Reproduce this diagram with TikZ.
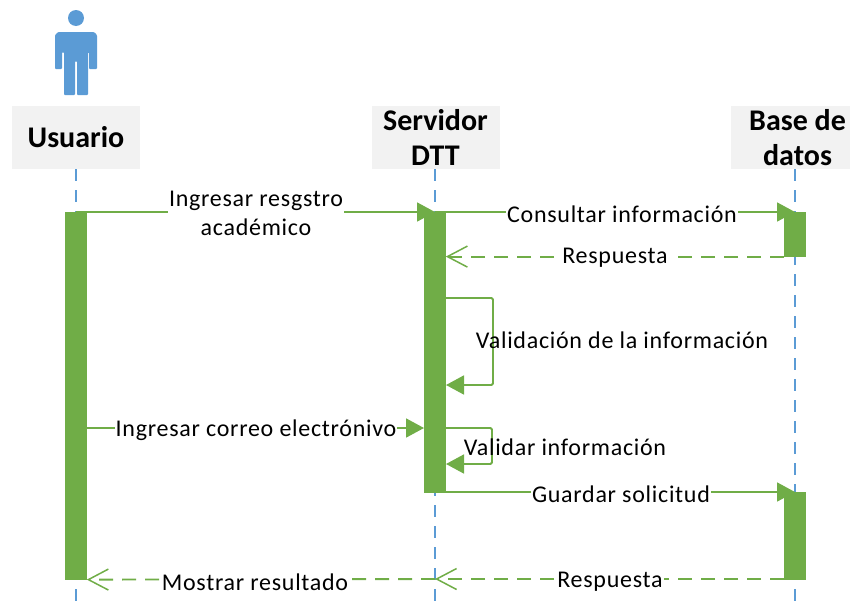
\documentclass[tikz,border=0pt]{standalone}
\usepackage{fontspec}
\setmainfont{Carlito}
\newfontfamily\labfont[LetterSpace=3]{Carlito}
\usetikzlibrary{arrows.meta,backgrounds}
\definecolor{grn}{HTML}{70AD47}
\definecolor{blu}{HTML}{5B9BD5}
\definecolor{hdr}{HTML}{F2F2F2}
\tikzset{
  x=1pt,y=-1pt,
  head/.style={fill=hdr,minimum width=128pt,minimum height=63pt,inner sep=0pt,align=center,font=\fontsize{30}{35}\selectfont\bfseries},
  bar/.style={fill=grn,draw=grn,line width=0.6pt,minimum width=21pt,inner sep=0pt,anchor=north},
  life/.style={draw=blu,line width=1.6pt,dash pattern=on 12pt off 9pt},
  msg/.style={draw=grn,line width=1.8pt,-{Triangle[length=18pt,width=19pt]}},
  ret/.style={draw=grn,line width=1.9pt,dash pattern=on 14pt off 9pt,-{Straight Barb[length=20pt,width=21pt,line width=1.5pt]}},
  lab/.style={fill=white,inner sep=1pt,font=\labfont\fontsize{24}{29}\selectfont,align=center,text=black},
}
\begin{document}
\begin{tikzpicture}
\useasboundingbox (0,0) rectangle (850,608);
% actor
\fill[blu] (76,18) circle (8);
\fill[blu,rounded corners=1pt] (58,32) -- (94,32) -- (97,35) -- (97,69) -- (89,69) -- (89,52) -- (88,52) -- (88,95) -- (77,95) -- (77,61) -- (75,61) -- (75,95) -- (64,95) -- (64,52) -- (62,52) -- (62,69) -- (55,69) -- (55,35) -- cycle;
% heads
\node[head] (hu) at (76,137.5) {Usuario};
\node[head] (hs) at (435.5,137.5) {Servidor\\DTT};
\node[head] (hb) at (795,137.5) {\hspace*{5pt}Base de\\\hspace*{5pt}datos};
\coordinate (eu) at (76,608);
\coordinate (es) at (435,608);
\coordinate (eb) at (795,608);
% activation bars
\node[bar,minimum height=367pt] (bu) at (76,212) {};
\node[bar,minimum height=280pt] (bs) at (435,212) {};
\node[bar,minimum height=44pt] (bb1) at (795,212) {};
\node[bar,minimum height=87pt] (bb2) at (795,492) {};
% free ends of the connectors
\coordinate (a1) at (76,212);
\coordinate (a2) at (435,212);
\coordinate (a3) at (795,212);
\coordinate (b1) at (446,298);
\coordinate (b2) at (493,298);
\coordinate (b3) at (493,385);
\coordinate (b4) at (446,385);
\coordinate (c1) at (87,428);
\coordinate (c2) at (424,428);
\coordinate (d1) at (446,428);
\coordinate (d2) at (492,428);
\coordinate (d3) at (492,464);
\coordinate (d4) at (446,464);
\coordinate (f1) at (435,492);
\coordinate (f2) at (795,492);
\coordinate (g1) at (784,579);
\coordinate (g2) at (435,579);
\coordinate (g3) at (76,579);
\begin{scope}[on background layer]
  \draw[life] (hu.south) -- (eu);
  \draw[life] (hs.south -| es) -- (es);
  \draw[life] (hb.south) -- (eb);
  \draw[msg] (a1) -- (a2);
  \draw[msg] (a2) -- (a3);
  \draw[ret] (bb1.south west) -- (bs.east |- bb1.south);
  \draw[msg,rounded corners=1.5pt] (b1) -- (b2) -- (b3) -- (b4);
  \draw[msg] (c1) -- (c2);
  \draw[msg,rounded corners=1.5pt] (d1) -- (d2) -- (d3) -- (d4);
  \draw[msg] (f1) -- (f2);
  \draw[ret] (g1) -- (g2);
  \draw[ret] (g2) -- (bu.south east);
\end{scope}
% labels
\node[lab] (l1) at (256,213) {Ingresar resgstro\\académico};
\node[lab] (l2) at (622,214) {Consultar información};
\node[lab] (l3) at (615,258) {Respuesta};
\node[lab,fill=none] (l4) at (622,340) {Validación de la información};
\node[lab] (l5) at (256,430) {Ingresar correo electrónivo};
\node[lab,fill=none] (l6) at (565,447) {Validar información};
\node[lab] (l7) at (621,494) {Guardar solicitud};
\node[lab] (l8) at (255,582) {Mostrar resultado};
\node[lab] (l9) at (610,582) {Respuesta};
\end{tikzpicture}
\end{document}
